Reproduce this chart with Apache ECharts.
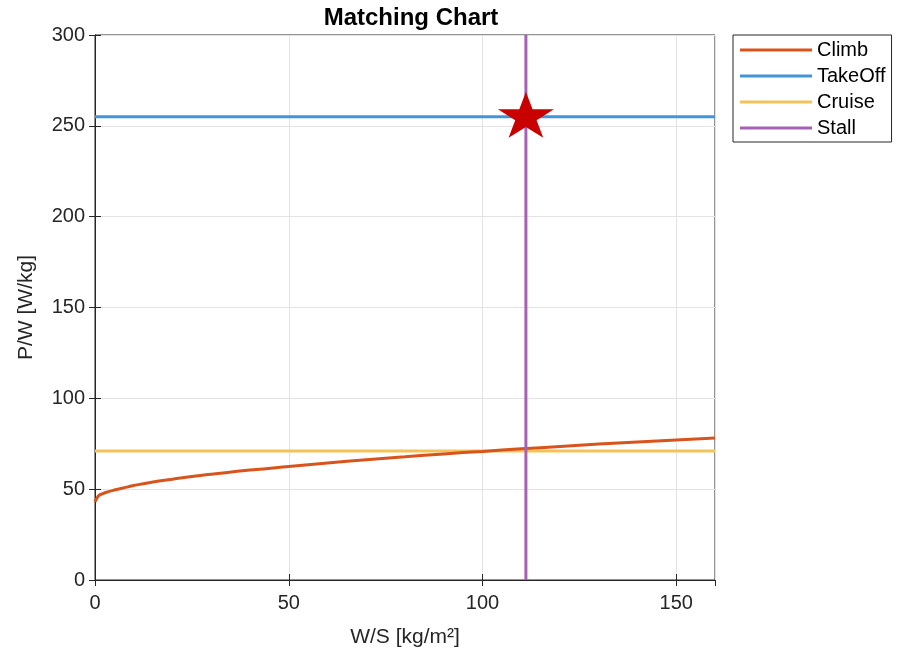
<!DOCTYPE html>
<html>
<head>
<meta charset="utf-8">
<script src="https://cdn.jsdelivr.net/npm/echarts@6/dist/echarts.min.js"></script>
<style>html,body{margin:0;padding:0;background:#fff}#c{width:899px;height:657px}</style>
</head>
<body>
<div id="c"></div>
<script>
const climbX = [0, 0.5, 1, 2, 3, 5, 7, 10, 15, 20, 25, 30, 40, 50, 60, 70, 80, 90, 100, 110, 120, 130, 140, 150, 160];
const climbY = [43, 45, 46.5, 47.5, 48.3, 49.5, 50.5, 52, 54, 55.5, 57, 58.2, 60.5, 62.5, 64.4, 66.2, 67.8, 69.4, 70.8, 72.2, 73.5, 74.8, 76, 77.1, 78.2];
const takeoffX = [0, 160];
const takeoffY = [255, 255];
const cruiseX = [0, 160];
const cruiseY = [71, 71];
const stallX = [111.2, 111.2];
const stallY = [0, 300];
const designPoint = [111.2, 255];
const xTicks = [0, 50, 100, 150];
const yTicks = [0, 50, 100, 150, 200, 250, 300];

const zip = (a, b) => a.map((v, i) => [v, b[i]]);
const font = 'Liberation Sans, Arial, Helvetica, sans-serif';

const chart = echarts.init(document.getElementById('c'));
chart.setOption({
  animation: false,
  backgroundColor: '#fff',
  title: {
    text: 'Matching Chart', left: 406, top: 1, textAlign: 'center',
    textStyle: { fontFamily: font, fontSize: 24, fontWeight: 'bold', color: '#000' }
  },
  grid: { left: 95, right: 184, top: 35, bottom: 77, show: true, borderColor: '#262626', borderWidth: 1, backgroundColor: '#fff' },
  legend: {
    orient: 'vertical', left: 733, top: 35, padding: [5, 6, 4, 7],
    itemWidth: 72, itemHeight: 3, itemGap: 6, icon: 'rect',
    borderColor: '#262626', borderWidth: 1,
    textStyle: { fontFamily: font, fontSize: 20, lineHeight: 20, color: '#000', padding: [0, 0, 0, 0] },
    data: ['Climb', 'TakeOff', 'Cruise', 'Stall']
  },
  xAxis: [{
    type: 'value', min: 0, max: 160, interval: 50,
    name: 'W/S [kg/m²]', nameLocation: 'middle', nameGap: 47,
    nameTextStyle: { fontFamily: font, fontSize: 21, color: '#262626' },
    axisLine: { show: true, onZero: false, lineStyle: { color: '#262626' } },
    axisTick: { show: true, inside: true, length: 6, lineStyle: { color: '#262626' } },
    axisLabel: { fontFamily: font, fontSize: 20, color: '#262626', margin: 13, showMaxLabel: false },
    splitLine: { show: true, lineStyle: { color: '#e3e3e3' } }
  }, {
    type: 'value', min: 0, max: 160, interval: 50, position: 'top',
    axisLine: { show: true, lineStyle: { color: '#262626' } },
    axisTick: { show: true, inside: true, length: 6, lineStyle: { color: '#262626' } },
    axisLabel: { show: false }, splitLine: { show: false }
  }],
  yAxis: [{
    type: 'value', min: 0, max: 300, interval: 50,
    name: 'P/W [W/kg]', nameLocation: 'middle', nameGap: 58,
    nameTextStyle: { fontFamily: font, fontSize: 21, color: '#262626' },
    axisLine: { show: true, onZero: false, lineStyle: { color: '#262626' } },
    axisTick: { show: true, inside: true, length: 6, lineStyle: { color: '#262626' } },
    axisLabel: { fontFamily: font, fontSize: 20, color: '#262626', margin: 10 },
    splitLine: { show: true, lineStyle: { color: '#e3e3e3' } }
  }, {
    type: 'value', min: 0, max: 300, interval: 50, position: 'right',
    axisLine: { show: true, lineStyle: { color: '#262626' } },
    axisTick: { show: true, inside: true, length: 6, lineStyle: { color: '#262626' } },
    axisLabel: { show: false }, splitLine: { show: false }
  }],
  series: [
    { name: 'Climb', type: 'line', data: zip(climbX, climbY), smooth: true, showSymbol: false, color: '#D9541C', lineStyle: { width: 3 }, z: 3 },
    { name: 'TakeOff', type: 'line', data: zip(takeoffX, takeoffY), showSymbol: false, color: '#4394D8', lineStyle: { width: 3 }, z: 2 },
    { name: 'Cruise', type: 'line', data: zip(cruiseX, cruiseY), showSymbol: false, color: '#F3C35A', lineStyle: { width: 3 }, z: 2 },
    { name: 'Stall', type: 'line', data: zip(stallX, stallY), showSymbol: false, color: '#A362B5', lineStyle: { width: 3 }, z: 4 },
    { name: 'Design', type: 'scatter', data: [designPoint], symbol: 'path://M0,-1 L0.2245,-0.309 L0.951,-0.309 L0.363,0.118 L0.588,0.809 L0,0.382 L-0.588,0.809 L-0.363,0.118 L-0.951,-0.309 L-0.2245,-0.309 Z', symbolSize: [56, 46], symbolOffset: [0, -2], itemStyle: { color: '#C80000', opacity: 1 }, z: 5 }
  ]
});
</script>
</body>
</html>
